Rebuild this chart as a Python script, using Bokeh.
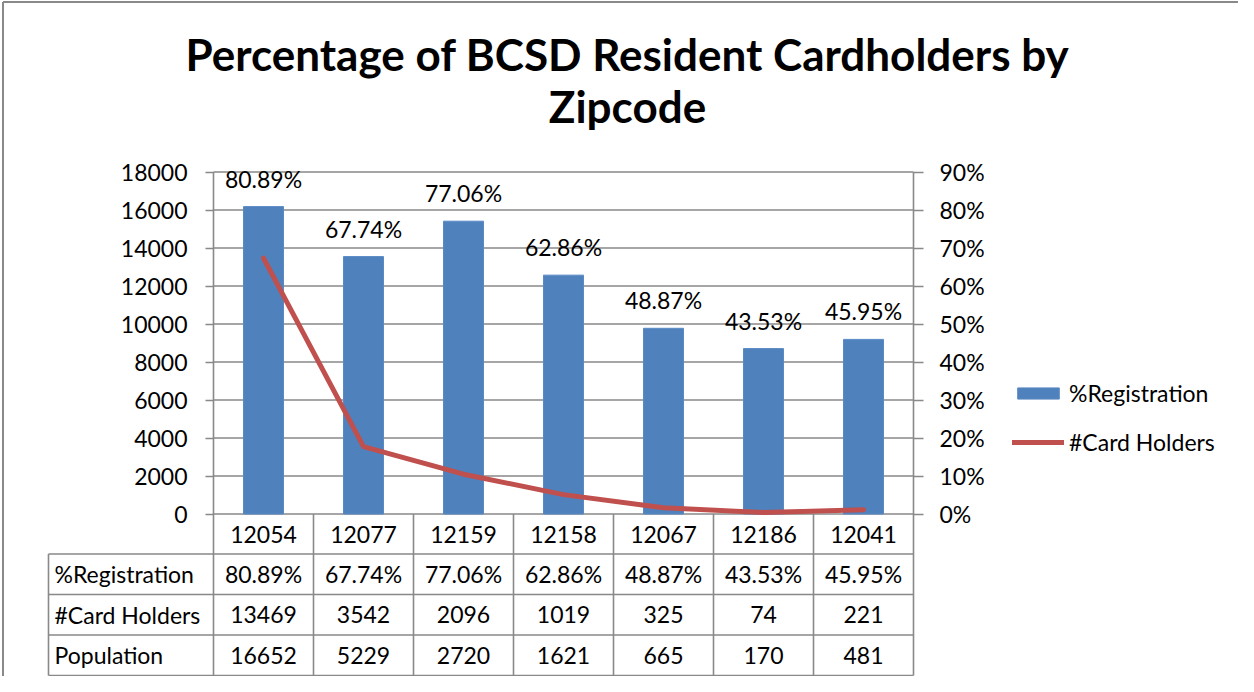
from bokeh.plotting import figure
from bokeh.models import (Range1d, LinearAxis, FixedTicker, PrintfTickFormatter,
                          ColumnDataSource, LabelSet, Label, Legend, LegendItem)
from bokeh.core.properties import value
from bokeh.embed import file_html
from bokeh.resources import INLINE

# ---------------- data ----------------
zipcodes = ["12054", "12077", "12159", "12158", "12067", "12186", "12041"]
pct_registration = [80.89, 67.74, 77.06, 62.86, 48.87, 43.53, 45.95]
card_holders = [13469, 3542, 2096, 1019, 325, 74, 221]
population = [16652, 5229, 2720, 1621, 665, 170, 481]
row_labels = ["%Registration", "#Card Holders", "Population"]
left_ticks = [0, 2000, 4000, 6000, 8000, 10000, 12000, 14000, 16000, 18000]
right_ticks = [0, 10, 20, 30, 40, 50, 60, 70, 80, 90]
title_lines = ["Percentage of BCSD Resident Cardholders by", "Zipcode"]

# ---------------- layout constants (pixels) ----------------
W, H = 1238, 676
FONT = "Lato"
FS = "23px"
GRAY = "#898989"
BLUE = "#4F81BD"
RED = "#C0504D"
x0_px = 213.0          # screen x of category boundary 0
cat_px = 100.0         # px per category
y0_px = 513.5          # screen y (from top) of value 0
plot_h = 342.0         # px for 0..18000 / 0..90%
left_max, right_max = 18000.0, 90.0
kL = plot_h / left_max
kR = plot_h / right_max

def vL(py):            # screen y (from top) -> left-axis value
    return (y0_px - py) / kL

def xd(px):            # screen x -> category units
    return (px - x0_px) / cat_px

n = len(zipcodes)
p = figure(width=W, height=H, output_backend="svg", toolbar_location=None,
           x_axis_location=None, y_axis_location=None,
           x_range=Range1d(xd(0), xd(W)), y_range=Range1d(vL(H), vL(0)),
           min_border=0, min_border_left=0, min_border_right=0,
           min_border_top=0, min_border_bottom=0, outline_line_color=None)
p.extra_y_ranges = {"pct": Range1d(-(H - y0_px) / kR, y0_px / kR)}
p.xgrid.visible = False
p.ygrid.visible = False

xc = [i + 0.5 for i in range(n)]

# gridlines
p.segment(x0=[0] * len(left_ticks), x1=[n] * len(left_ticks), y0=left_ticks, y1=left_ticks,
          line_color=GRAY, line_width=1.6)

# table geometry
row_px = [y0_px, y0_px + 40, y0_px + 80.5, y0_px + 121, y0_px + 161.5]
row_v = [vL(r) for r in row_px]
lab_left = xd(48)
hy = row_v[1:]
p.segment(x0=[lab_left] * len(hy), x1=[n] * len(hy), y0=hy, y1=hy, line_color=GRAY, line_width=1.6)
p.segment(x0=[0, n], x1=[0, n], y0=[left_max] * 2, y1=[row_v[-1]] * 2, line_color=GRAY, line_width=1.6)
p.segment(x0=list(range(1, n)), x1=list(range(1, n)), y0=[0] * (n - 1), y1=[row_v[-1]] * (n - 1),
          line_color=GRAY, line_width=1.6)
p.segment(x0=[lab_left], x1=[lab_left], y0=[row_v[1]], y1=[row_v[-1]], line_color=GRAY, line_width=1.6)

# outer chart border
bx, by = xd(2.5), vL(1.5)
p.segment(x0=[bx, bx], x1=[bx, xd(W + 10)], y0=[vL(H + 10), by], y1=[by, by],
          line_color=GRAY, line_width=2)

# bars and line
src = ColumnDataSource(dict(x=xc, pct=pct_registration, cards=card_holders,
                            lbl=[f"{v:.2f}%" for v in pct_registration]))
bars = p.vbar(x="x", top="pct", width=0.4, bottom=0, source=src, y_range_name="pct",
              fill_color=BLUE, line_color="#5A8AC4", line_width=1)
line = p.line(x="x", y="cards", source=src, line_color=RED, line_width=5,
              line_cap="round", line_join="round")

p.add_layout(LabelSet(x="x", y="pct", text="lbl", source=src, y_range_name="pct",
                      y_offset=19, text_align="center", text_baseline="alphabetic",
                      text_font=value(FONT), text_font_size=value(FS), text_color="black"))

# table texts
cells_y = [(row_v[i] + row_v[i + 1]) / 2 for i in range(4)]
rows = [zipcodes, [f"{v:.2f}%" for v in pct_registration],
        [str(v) for v in card_holders], [str(v) for v in population]]
for r, vals in enumerate(rows):
    p.text(x=xc, y=[cells_y[r]] * n, text=vals, text_align="center", text_baseline="middle",
           text_font=value(FONT), text_font_size=value(FS), text_color="black")
p.text(x=[xd(54)] * 3, y=cells_y[1:], text=row_labels, text_align="left", text_baseline="middle",
       text_font=value(FONT), text_font_size=value(FS), text_color="black")

# axes
la = LinearAxis(fixed_location=0, ticker=FixedTicker(ticks=left_ticks), bounds=(0, left_max))
ra = LinearAxis(fixed_location=n, y_range_name="pct", ticker=FixedTicker(ticks=right_ticks),
                formatter=PrintfTickFormatter(format="%d%%"), bounds=(0, right_max))
for ax, out, so in ((la, 8, 18), (ra, 10, 16)):
    ax.axis_line_color = None
    ax.major_tick_in = 0
    ax.major_tick_out = out
    ax.major_tick_line_color = GRAY
    ax.major_tick_line_width = 1.6
    ax.minor_tick_line_color = None
    ax.major_label_standoff = so
    ax.major_label_text_font = FONT
    ax.major_label_text_font_size = FS
    ax.major_label_text_color = "black"
p.add_layout(la, "left")
p.add_layout(ra, "right")

# title (data units, mapped from pixel layout)
for txt, mid in zip(title_lines, (53, 105)):
    p.add_layout(Label(x=xd(627), y=vL(mid), text=txt,
                       text_align="center", text_baseline="middle", text_font=FONT,
                       text_font_style="bold", text_font_size="44px", text_color="black"))

# legend
legend = Legend(items=[LegendItem(label="%Registration", renderers=[bars]),
                       LegendItem(label="#Card Holders", renderers=[line])],
                location=(1012, H - 457), orientation="vertical", padding=0, margin=0,
                spacing=19, glyph_width=52, glyph_height=14, label_height=30,
                label_standoff=5, label_text_font=FONT, label_text_font_size=FS,
                label_text_color="black", border_line_color=None, background_fill_alpha=0)
p.add_layout(legend, "center")

open("out.html", "w").write(file_html(p, INLINE))
